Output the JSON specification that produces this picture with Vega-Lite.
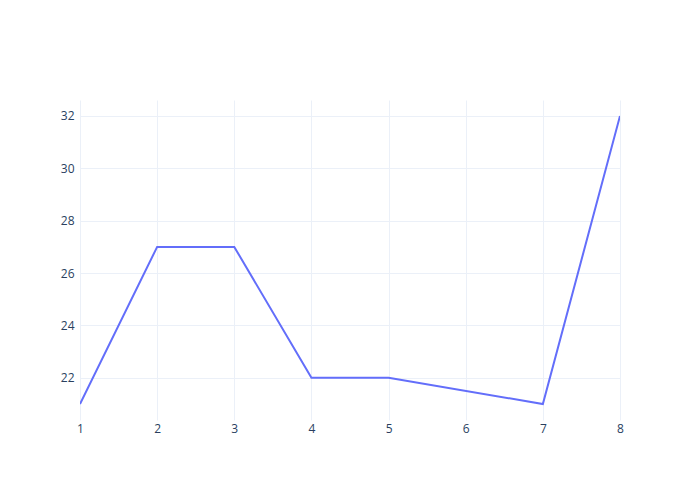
{
  "$schema": "https://vega.github.io/schema/vega-lite/v6.json",
  "width": 540,
  "height": 320,
  "autosize": "none",
  "padding": {"left": 80, "top": 100, "right": 80, "bottom": 80},
  "background": "white",
  "config": {
    "view": {"stroke": null},
    "axis": {
      "labelFont": "Open Sans",
      "labelFontSize": 12,
      "labelColor": "#2a3f5f",
      "gridColor": "#ebf0f8",
      "gridWidth": 1,
      "domain": false,
      "ticks": false,
      "title": null
    }
  },
  "data": {
    "values": [
      {"x": 1, "y": 21},
      {"x": 2, "y": 27},
      {"x": 3, "y": 27},
      {"x": 4, "y": 22},
      {"x": 5, "y": 22},
      {"x": 7, "y": 21},
      {"x": 8, "y": 32}
    ]
  },
  "mark": {"type": "line", "color": "#636efa", "strokeWidth": 2, "clip": true},
  "encoding": {
    "x": {
      "field": "x",
      "type": "quantitative",
      "scale": {"domain": [1, 8], "nice": false, "zero": false},
      "axis": {"values": [1, 2, 3, 4, 5, 6, 7, 8], "labelPadding": 3, "labelFlush": false}
    },
    "y": {
      "field": "y",
      "type": "quantitative",
      "scale": {"domain": [20.39, 32.61], "nice": false, "zero": false},
      "axis": {"values": [22, 24, 26, 28, 30, 32], "labelPadding": 6}
    }
  }
}
